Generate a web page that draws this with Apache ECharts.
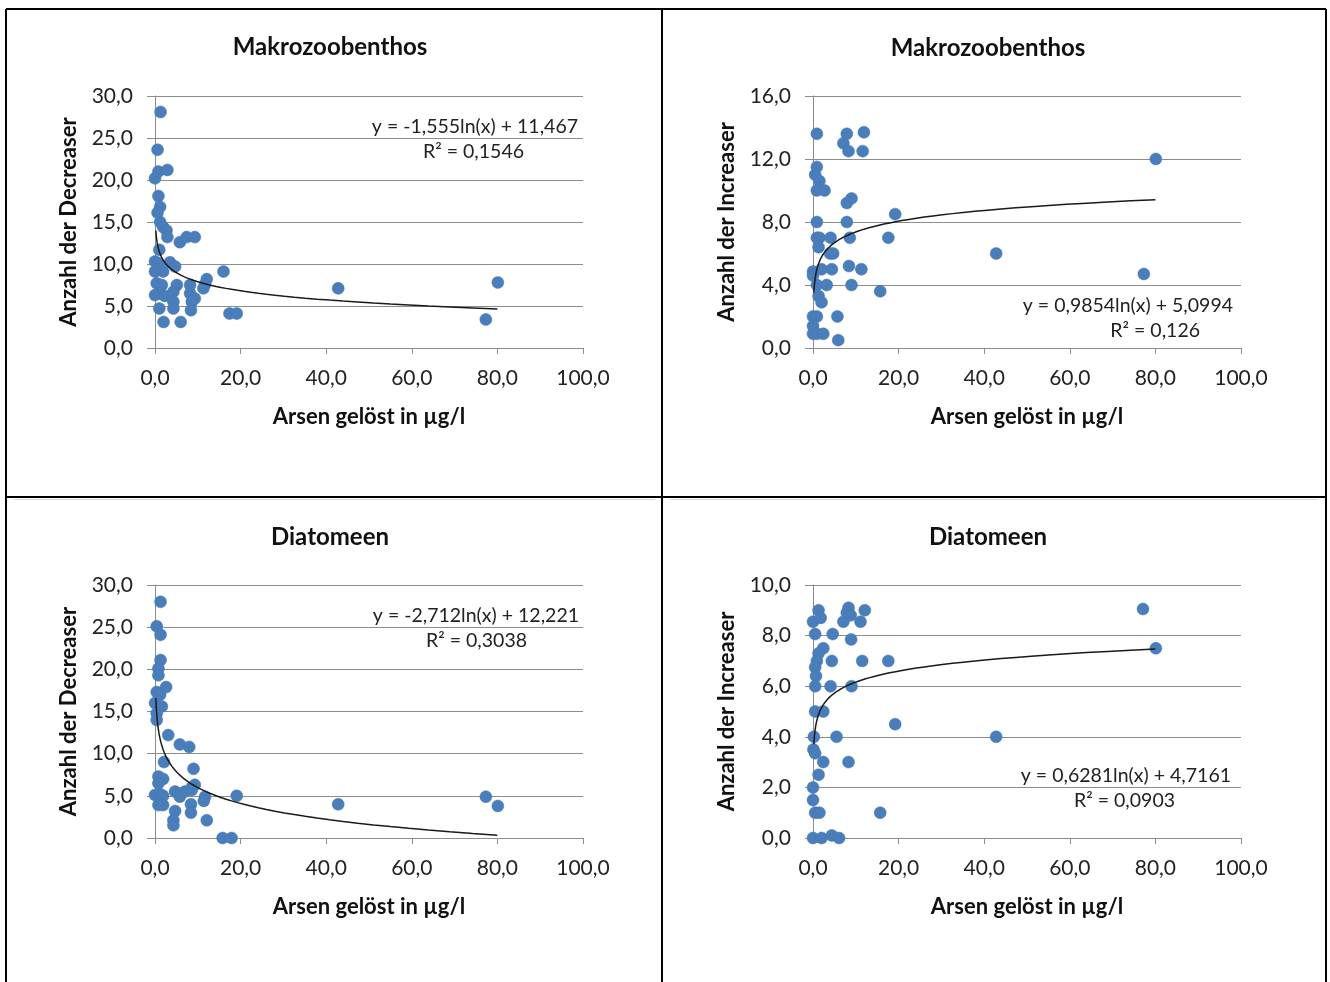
<!DOCTYPE html>
<html><head><meta charset="utf-8">
<script src="https://cdn.jsdelivr.net/npm/echarts@6/dist/echarts.min.js"></script>
<style>html,body{margin:0;padding:0;background:#fff}#c{width:1330px;height:982px}</style>
</head><body><div id="c"></div>
<script>
// ---- data ----
const xTicks = [0, 20, 40, 60, 80, 100];
const titles = ["Makrozoobenthos", "Makrozoobenthos", "Diatomeen", "Diatomeen"];
const yNames = ["Anzahl der Decreaser", "Anzahl der Increaser", "Anzahl der Decreaser", "Anzahl der Increaser"];
const xName = "Arsen gelöst in µg/l";
const yMax = [30, 16, 30, 10];
const yStep = [5, 4, 5, 2];
const trendA = [-1.555, 0.9854, -2.712, 0.6281];
const trendB = [11.467, 5.0994, 12.221, 4.7161];
const eqTexts = ["y = -1,555ln(x) + 11,467", "y = 0,9854ln(x) + 5,0994", "y = -2,712ln(x) + 12,221", "y = 0,6281ln(x) + 4,7161"];
const r2Texts = ["R² = 0,1546", "R² = 0,126", "R² = 0,3038", "R² = 0,0903"];
const trendXRange = [0.2, 80];

const mzbDecreaser = [[1.3,28.1],[0.6,23.6],[0,20.2],[0.8,21.0],[2.9,21.2],[0.8,18.1],[1.2,16.8],[0.6,16.1],[1.2,15.0],[1.9,14.4],[2.7,14.0],[2.9,13.2],[5.8,12.6],[7.4,13.2],[9.3,13.2],[1.0,11.7],[0,10.3],[0.8,10.1],[3.5,10.2],[4.7,9.7],[0,9.1],[1.9,9.1],[16.0,9.1],[12.1,8.2],[11.7,7.6],[0.4,7.7],[1.6,7.5],[5.1,7.5],[8.2,7.5],[11.3,7.1],[1.2,6.5],[0,6.3],[2.3,6.2],[4.3,6.7],[8.2,6.5],[9.3,5.9],[4.3,5.5],[8.6,5.5],[1.0,4.7],[4.3,4.7],[8.4,4.5],[2.0,3.1],[6.0,3.1],[17.4,4.1],[19.1,4.1],[42.8,7.1],[80.1,7.8],[77.3,3.4]];
const mzbIncreaser = [[0.9,13.6],[7.9,13.6],[11.9,13.7],[7.1,13.0],[8.3,12.5],[11.6,12.5],[0.9,11.5],[0.5,11.0],[1.5,10.6],[0.9,10.0],[2.7,10.0],[9.0,9.5],[7.9,9.2],[19.2,8.5],[0.9,8.0],[7.9,8.0],[0.9,7.0],[1.5,7.0],[4.1,7.0],[8.6,7.0],[17.6,7.0],[1.3,6.4],[4.0,6.0],[4.7,6.0],[0,4.85],[0,4.6],[2.0,5.0],[4.4,5.0],[8.4,5.2],[11.3,5.0],[0.9,4.0],[3.2,4.0],[9.0,4.0],[15.7,3.6],[1.3,3.3],[2.0,2.9],[0,2.0],[0.9,2.0],[5.7,2.0],[0,1.4],[0,0.9],[0.9,0.9],[2.4,0.9],[5.9,0.5],[80.1,12.0],[42.8,6.0],[77.3,4.7]];
const diaDecreaser = [[1.3,28.0],[0.4,25.1],[1.3,24.1],[1.3,21.1],[0.8,20.1],[0.8,19.3],[2.6,17.9],[0.4,17.3],[1.2,17.0],[0,16.0],[1.6,15.6],[0.4,14.8],[0.4,14.0],[3.1,12.2],[5.8,11.1],[8.0,10.8],[2.1,9.0],[9.0,8.2],[0.8,7.3],[1.9,7.0],[0.8,6.5],[9.3,6.3],[8.6,6.0],[0,5.1],[1.2,5.2],[1.9,5.0],[4.7,5.5],[5.8,4.9],[7.0,5.5],[8.6,5.7],[11.7,4.9],[11.4,4.4],[19.1,5.0],[0.8,3.9],[1.9,3.9],[4.7,3.2],[8.4,4.0],[8.4,3.0],[4.3,2.1],[4.3,1.5],[12.1,2.1],[15.8,0],[17.9,0],[42.8,4.0],[77.3,4.9],[80.1,3.8]];
const diaIncreaser = [[1.3,9.0],[8.3,9.1],[7.9,8.9],[12.1,9.0],[0,8.55],[1.8,8.7],[7.1,8.55],[11.1,8.55],[8.8,8.8],[0.5,8.06],[4.6,8.06],[8.9,7.85],[2.4,7.5],[1.3,7.3],[0.9,7.0],[4.4,7.0],[11.5,7.0],[17.6,7.0],[0.5,6.75],[0.7,6.4],[0.5,6.0],[4.1,6.0],[9.0,6.0],[0.5,5.0],[2.4,5.0],[19.2,4.5],[0.2,4.0],[5.5,4.0],[0.1,3.5],[0.5,3.35],[2.4,3.0],[8.3,3.0],[1.3,2.5],[0,2.0],[0,1.5],[0.5,1.0],[1.5,1.0],[15.7,1.0],[0,0],[2.0,0],[4.4,0.1],[6.1,0],[77.1,9.05],[80.1,7.5],[42.8,4.0]];
const panelData = [mzbDecreaser, mzbIncreaser, diaDecreaser, diaIncreaser];

// ---- layout ----
const FONT = 'Lato';
const grids = [
  {left: 155, top: 96, width: 428, height: 252},
  {left: 813, top: 96, width: 428, height: 252},
  {left: 155, top: 585, width: 428, height: 253},
  {left: 813, top: 585, width: 428, height: 253}
];
const titlePos = [[330, 47], [988, 48], [330, 537], [988, 537]];
const eqPos = [[578, 127, 524, 152], [1233, 306, 1200, 331], [579, 616, 527, 641], [1231, 776, 1175, 801]];
const fmt = v => v.toFixed(1).replace('.', ',');
const axisGray = '#8c8c8c';

function trendLine(i) {
  const pts = [];
  const n = 80;
  const l0 = Math.log(trendXRange[0]), l1 = Math.log(trendXRange[1]);
  for (let k = 0; k <= n; k++) {
    const x = Math.exp(l0 + (l1 - l0) * k / n);
    pts.push([x, trendA[i] * Math.log(x) + trendB[i]]);
  }
  return pts;
}

const xAxes = [], yAxes = [], series = [], graphic = [];
for (let i = 0; i < 4; i++) {
  xAxes.push({
    type: 'value', gridIndex: i, min: 0, max: 100, interval: 20,
    name: xName, nameLocation: 'middle', nameGap: 58,
    nameTextStyle: {fontFamily: FONT, fontSize: 22, fontWeight: 'bold', color: '#111'},
    axisLine: {show: true, lineStyle: {color: axisGray, width: 1}},
    axisTick: {show: true, length: 6, lineStyle: {color: axisGray}},
    axisLabel: {margin: 20, fontFamily: FONT, fontSize: 21, color: '#222', formatter: fmt},
    splitLine: {show: false}
  });
  yAxes.push({
    type: 'value', gridIndex: i, min: 0, max: yMax[i], interval: yStep[i],
    name: yNames[i], nameLocation: 'middle', nameGap: 75, nameRotate: 90,
    nameTextStyle: {fontFamily: FONT, fontSize: 22, fontWeight: 'bold', color: '#111'},
    axisLine: {show: true, lineStyle: {color: axisGray, width: 1}},
    axisTick: {show: true, length: 8, lineStyle: {color: axisGray}},
    axisLabel: {margin: 22, fontFamily: FONT, fontSize: 21, color: '#222', formatter: fmt},
    splitLine: {show: true, lineStyle: {color: axisGray, width: 1}}
  });
  series.push({
    type: 'scatter', xAxisIndex: i, yAxisIndex: i, data: panelData[i],
    symbolSize: 12, itemStyle: {color: '#4a7ebb', borderColor: '#4577b2', borderWidth: 0.5, opacity: 1},
    z: 2, silent: true
  });
  series.push({
    type: 'line', xAxisIndex: i, yAxisIndex: i, data: trendLine(i),
    showSymbol: false, symbol: 'none', smooth: false,
    lineStyle: {color: '#1a1a1a', width: 1.5}, z: 3, silent: true
  });
  graphic.push({
    type: 'text', x: titlePos[i][0], y: titlePos[i][1],
    style: {text: titles[i], font: 'bold 24px ' + FONT, fill: '#111', textAlign: 'center', textVerticalAlign: 'middle'}
  });
  graphic.push({
    type: 'text', x: eqPos[i][0], y: eqPos[i][1],
    style: {text: eqTexts[i], font: '19.5px ' + FONT, fill: '#222', textAlign: 'right', textVerticalAlign: 'middle'}
  });
  graphic.push({
    type: 'text', x: eqPos[i][2], y: eqPos[i][3],
    style: {text: r2Texts[i], font: '19.5px ' + FONT, fill: '#222', textAlign: 'right', textVerticalAlign: 'middle'}
  });
}

// table borders
const bw = 2;
const lines = [
  [6, 9, 1326, 9], [6, 497, 1326, 497],
  [6, 9, 6, 982], [662, 9, 662, 982], [1326, 9, 1326, 982]
];
lines.forEach(l => graphic.push({type: 'line', shape: {x1: l[0], y1: l[1], x2: l[2], y2: l[3]}, style: {stroke: '#000', lineWidth: bw}, z: 10}));
graphic.push({type: 'line', shape: {x1: 14, y1: 499.5, x2: 655, y2: 499.5}, style: {stroke: '#d9d9d9', lineWidth: 1}});
graphic.push({type: 'line', shape: {x1: 670, y1: 499.5, x2: 1318, y2: 499.5}, style: {stroke: '#d9d9d9', lineWidth: 1}});

const chart = echarts.init(document.getElementById('c'), null, {renderer: 'canvas'});
chart.setOption({
  animation: false,
  backgroundColor: '#fff',
  grid: grids.map(g => Object.assign({containLabel: false}, g)),
  xAxis: xAxes, yAxis: yAxes, series: series, graphic: graphic
});
</script></body></html>
